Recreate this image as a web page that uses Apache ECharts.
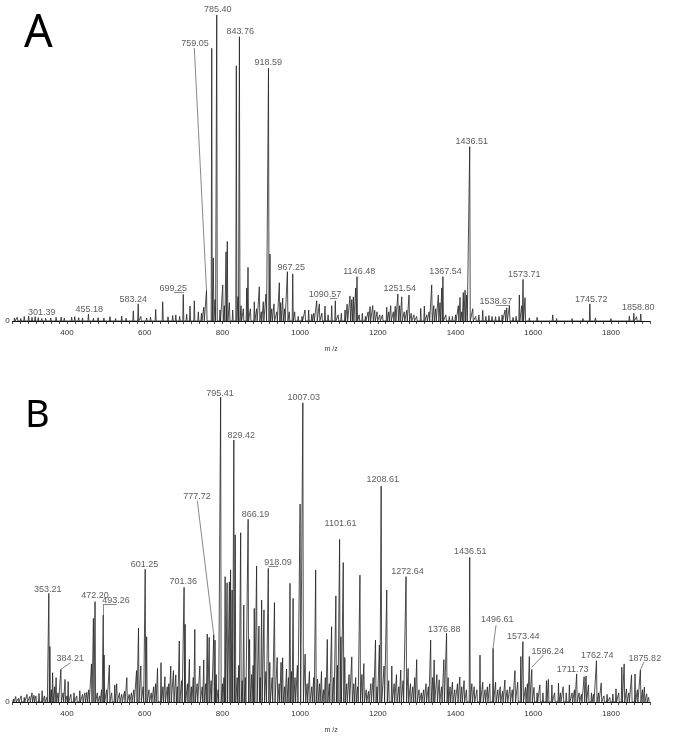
<!DOCTYPE html>
<html>
<head>
<meta charset="utf-8">
<script src="https://cdn.jsdelivr.net/npm/echarts@6/dist/echarts.min.js"></script>
<style>html,body{margin:0;padding:0;background:#fff}#c{width:673px;height:743px}</style>
</head>
<body>
<div id="c"></div>
<script>
// ---------- Panel A: peaks (m/z, relative intensity %) ----------
const mzA = [265,272,281,290,301.39,310,318,326,335,345,358,372,385,393,412,420,430,440,455.18,468,480,495,510.7,525,540.8,552,570.7,583.24,590,605,615,628.3,646.3,660,672,680,690,699.25,708,716.6,727.7,738,746,752,759.05,772.5,776.6,781,785.4,793.8,800.8,805,809.3,812.6,818,826.5,835.8,840,843.76,848,853.8,862.5,865.9,872,882.1,888,895,900,905.3,912.2,918.59,922.5,927,932.8,940,946.5,950,955.2,960,967.25,972,981,986,995,1005,1012.6,1022,1030,1035,1042.7,1049.4,1056,1064,1072,1081.3,1090.57,1098,1106,1115.6,1121,1128.4,1133,1137,1143,1146.48,1152,1160,1168,1175,1180,1186.9,1192,1198,1205,1212,1222.9,1228,1233.2,1240,1245,1251.54,1256,1261.5,1268,1274.4,1280.3,1286,1293,1300,1310.4,1319.7,1326,1332,1338.7,1344,1349,1355.7,1360,1364.5,1367.54,1375,1384,1392,1400,1407.2,1411.6,1416,1420,1424.5,1428.8,1436.51,1444.3,1452,1460,1470,1478,1486,1494,1503,1512,1520,1527.4,1531.8,1538.67,1548,1556,1564.2,1570.4,1573.71,1578.9,1590,1610,1650.2,1660,1700,1728,1745.72,1760,1800,1847.4,1858.8,1866,1876.7];
const intA = [1.0,1.2,0.8,1.5,1.6,1.2,1.4,1.1,0.8,0.9,1.0,1.2,1.3,1.0,1.2,1.4,1.1,1.0,2.2,0.9,1.1,1.0,1.4,0.8,1.6,0.9,3.3,5.6,1.5,1.0,1.2,3.8,6.3,1.4,1.8,2.0,1.5,8.7,2.2,4.9,6.6,3.0,2.5,4.5,10,89.1,20.6,7,100,3.6,11.8,5,22.6,26,6,3.6,83.4,8,92.9,5,4,10.8,17.5,4,6.3,4,11.2,3,6.3,8.8,82.6,21.9,4,5.6,3,12.5,6,7.5,4,16.1,3,15.4,3,1.5,1.5,3.6,3.6,2.2,2.5,6.6,5.6,2.5,4.9,2.0,5,6.6,2.0,2.5,3.6,5.5,8.2,7,7.9,10.8,14.5,2,2.5,1.5,3,4.7,5,3.5,3,2,2,4.5,3,5,3,4.8,8.8,5,7.9,3,3.5,8.5,2.5,2,1.5,4.1,4.9,2,3,11.8,5,4,8.5,6,10.8,14.5,2,1.5,1.5,2,5,7.7,3,9.3,10.1,8.5,57,4,1.5,2,3.5,1.5,1.8,1.5,1.4,1.5,2,3.6,4.3,4.9,1.2,1.5,8.5,5,13.6,7.6,1.0,1.2,2,0.8,0.8,0.8,5.6,1.0,0.8,1.6,2.5,1.4,2.3];

// Panel A peak labels: text, label anchor (m/z, %)
const labTextA = ['301.39','455.18','583.24','699.25','759.05','785.40','843.76','918.59','967.25','1090.57','1146.48','1251.54','1367.54','1436.51','1538.67','1573.71','1745.72','1858.80'];
const labMzA = [334.9,457.1,570.7,673.6,729.5,788.2,846.1,918.1,977.1,1064.1,1152.1,1256.6,1374.3,1441.7,1503.7,1576.8,1749.3,1870.5];
const labIntA = [2.7,3.6,7.1,10.5,90.8,101.9,94.5,84.4,17.4,8.5,16.1,10.7,16.1,58.6,6.5,15.3,6.9,4.5];
// leader / underline segments for A: [x1, y1, x2, y2] in (m/z, %)
const leadA = [[727.7,89.2,759.05,10],[675,9.4,701,9.4],[1077,7.4,1095,7.4],[1503.5,5.2,1540.3,5.2]];

// ---------- Panel B ----------
const mzB = [262,268,275,282,290,297,304,310,315,320,328,336,342,348,353.21,356,360,363,368,372,377,384.21,390,395,400,403,410,418,425,433,440,446,451,456,463,468,472.2,478,484,489,493.26,495.5,502,509,515,523,528,535,541,548,554,560,566,572,579,584,590,596,601.25,605,611,617,623,628,633,642,647,652,658,662,667,674,680,684,689,695,701.36,704,710,715,720,725,729,735,742,748,752,757,761,766,771,777.72,781,784,789,795.41,800,804,807,812,818,821,825,829.42,833,838,842,847,851,855,859,866.19,870,875,879,882,888,894,897,901,907,912,918.09,922,928,934,941,946,951,955,960,965,970,974,978,982,987,993,1000,1007.03,1013,1018,1024,1030,1035,1040,1045,1050,1055,1060,1065,1070,1075,1081,1086,1092,1096,1101.61,1105,1111,1115,1120,1126,1133,1138,1143,1148,1154,1159,1164,1170,1176,1182,1188,1194,1198,1204,1208.61,1216,1223,1228,1236,1242,1248,1254,1259,1265,1272.64,1278,1284,1290,1295,1300,1306,1312,1318,1324,1330,1336,1341,1345,1352,1358,1364,1370,1376.88,1381,1386,1392,1398,1405,1411,1416,1422,1428,1436.51,1442,1448,1455,1463,1470,1476,1482,1488,1496.61,1503,1509,1515,1521,1527,1533,1540,1546,1553,1560,1568,1573.44,1580,1585,1590,1596.24,1602,1610,1617,1625,1634,1639,1648,1655,1665,1670,1677,1685,1693,1700,1706,1711.73,1718,1724,1731,1736,1742,1750,1755,1762.74,1768,1775,1782,1790,1797,1805,1813,1820,1828,1834,1840,1846,1853,1862,1868,1875.82,1881,1886,1892,1897];
const intB = [1.0,1.8,1.2,2.0,1.5,2.5,1.8,3.0,2.2,2.0,2.8,3.7,2.0,1.5,35.6,18.2,4,9.6,5,8,3,10.7,3,7.4,2,6.7,2.5,3,2,3.7,2.5,3,3.2,4,12.5,27.4,32.9,3,2,4,28.5,15.4,4,12.1,3,5.6,6,3,2.5,3.5,8,2.5,3,4,10.3,24.2,11.8,5,43.5,21.4,4,3,5,6,11,12.9,5,8.3,5,6,11.8,10.3,8.9,5,20,7,37.6,25.5,6,14,5,8,23.8,6,11.8,5,13.8,6,22.3,21.2,7,22,20.3,9,4,100,6,8,41.1,39.1,39.4,43.3,36.7,85.9,54.8,8,12,55.5,7,31.8,8,59.9,20.5,9,12,30.7,44.6,24.9,8,33.4,30.2,10,43.8,13,8,32.6,14.6,6,13,14.5,5,10.8,8,38.9,10,34,8,12,64.9,98.1,15.7,6,10,5,8,43.3,7.5,6,10,4,8,20.5,6,24.7,8,34.8,12,53.3,21.4,45.7,14.6,6,9,14.8,6,8,5,41.6,9,12.6,4,3.5,6,8,20.3,5,18.7,70.8,11.8,36.7,7,11.8,6,9,5,10.5,7,41.1,11,6,5,8,13.9,4,3,4,6,5,20.3,8,13.8,9,7.3,5,13.9,22.5,8,5,6.5,4,6,8.2,5,7,4,47.4,6,5,4,15.4,6.5,4,5,6,17.6,6.5,4,5,3.5,7.2,4,5,4,10.3,6.5,14.9,19.8,4.8,6,14.9,10.7,4.8,3,5.6,3,7,7.4,5.6,3,6.2,3,5,3,5.6,3,4,9.2,3,2.5,8.3,8.5,5.6,3,2.5,13.5,3,6.2,2,2.5,1.5,2.6,4.3,3,11.4,12.5,4.3,3,8.9,9.2,4,10.5,4,4.9,2.7,1.5];

const labTextB = ['353.21','384.21','472.20','493.26','601.25','701.36','777.72','795.41','829.42','866.19','918.09','1007.03','1101.61','1208.61','1272.64','1376.88','1436.51','1496.61','1573.44','1596.24','1711.73','1762.74','1875.82'];
const labMzB = [350.3,408.5,472.1,526.1,599.5,699.4,734.6,793.8,848.4,885.2,943.1,1009.5,1104,1212.9,1276.4,1370.9,1438.1,1507.3,1574.5,1637.6,1701.2,1764.7,1887.3];
const labIntB = [37,14.3,34.8,33.2,45.2,39.6,67.3,101.2,87.5,61.6,45.7,99.9,58.4,72.8,42.7,23.8,49.3,26.9,21.6,16.5,10.5,15.3,14.3];
const leadB = [[735.4,66,777.72,22],[409.5,12.9,384.21,10.7],[1504.2,25.2,1496.61,17.6],[1626,15.4,1596.24,11.4],[1885.2,13.2,1875.82,10.5],[493.26,32,527.9,32],[493.26,28.5,493.26,32],[918.09,44.4,944,44.4]];

const xMin = 260, xMax = 1900;

function profile(mz, inten) {
  const w = 1.4; const out = [];
  mz.forEach((m, i) => { out.push([m - w, 0], [m, inten[i]], [m + w, 0]); });
  return out;
}
function labels(t, m, v) { return t.map((s, i) => [m[i], v[i], s]); }
function leaders(arr) { return arr.map(a => [{coord: [a[0], a[1]]}, {coord: [a[2], a[3]]}]); }

const chart = echarts.init(document.getElementById('c'), null, {renderer: 'canvas'});
const axisFont = {fontFamily: 'Liberation Sans', fontSize: 8, color: '#333'};
function xAxis(gi) {
  return {
    type: 'value', gridIndex: gi, min: xMin, max: xMax, interval: 20,
    name: 'm /z', nameLocation: 'middle', nameGap: 25,
    nameTextStyle: {fontFamily: 'Liberation Sans', fontSize: 7, color: '#333'},
    axisLine: {lineStyle: {color: '#111', width: 1}},
    axisTick: {length: 3, lineStyle: {color: '#222', width: 0.8}},
    axisLabel: Object.assign({margin: 8, formatter: v => (v % 200 === 0 ? String(v) : '')}, axisFont),
    splitLine: {show: false}
  };
}
function yAxis(gi) {
  return {
    type: 'value', gridIndex: gi, min: 0, max: 104, interval: 104,
    axisLine: {show: false}, axisTick: {show: false}, splitLine: {show: false},
    axisLabel: Object.assign({margin: 3, formatter: v => (v === 0 ? '0' : '')}, axisFont)
  };
}
function lineSeries(gi, data, leads) {
  return {
    type: 'line', xAxisIndex: gi, yAxisIndex: gi, data: data, showSymbol: false, symbol: 'none',
    lineStyle: {color: '#222', width: 0.8}, animation: false, silent: true,
    markLine: {symbol: ['none', 'none'], silent: true, animation: false, label: {show: false},
      lineStyle: {color: '#555', width: 0.7, type: 'solid'}, emphasis: {disabled: true}, data: leaders(leads)}
  };
}
function labelSeries(gi, data) {
  return {
    type: 'scatter', xAxisIndex: gi, yAxisIndex: gi, data: data, symbolSize: 1,
    itemStyle: {color: 'rgba(0,0,0,0)'}, animation: false, silent: true,
    label: {show: true, position: 'inside', formatter: p => p.data[2],
      fontFamily: 'Liberation Sans', fontSize: 9, color: '#333'}
  };
}

chart.setOption({
  backgroundColor: '#fff',
  animation: false,
  grid: [
    {left: 12.6, right: 23.2, top: 2.76, height: 318.24},
    {left: 12.6, right: 23.2, top: 384.8, height: 317.2}
  ],
  xAxis: [xAxis(0), xAxis(1)],
  yAxis: [yAxis(0), yAxis(1)],
  graphic: [
    {type: 'text', left: 24, top: 12, style: {text: 'A', font: '45px "Noto Sans"', fill: '#000'}},
    {type: 'text', left: 25, top: 397, style: {text: 'B', font: '38px "Noto Sans"', fill: '#000'}}
  ],
  series: [
    lineSeries(0, profile(mzA, intA), leadA),
    labelSeries(0, labels(labTextA, labMzA, labIntA)),
    lineSeries(1, profile(mzB, intB), leadB),
    labelSeries(1, labels(labTextB, labMzB, labIntB))
  ]
});
</script>
</body>
</html>
